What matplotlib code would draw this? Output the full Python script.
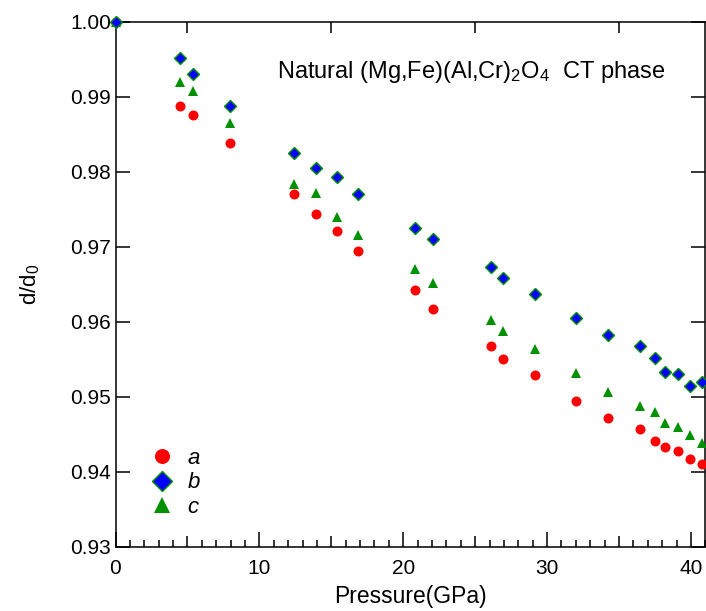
import matplotlib
matplotlib.use("Agg")
import matplotlib.pyplot as plt
from matplotlib.ticker import FixedLocator

plt.rcParams['font.family'] = ['Liberation Sans', 'DejaVu Sans']
plt.rcParams['mathtext.fontset'] = 'custom'
plt.rcParams['mathtext.rm'] = 'Liberation Sans'
plt.rcParams['mathtext.it'] = 'Liberation Sans:italic'

pressure = [0, 4.45, 5.40, 7.96, 12.44, 13.92, 15.38, 16.85, 20.83, 22.09, 26.07,
            26.91, 29.17, 32.04, 34.27, 36.45, 37.50, 38.20, 39.11, 39.92, 40.78]
a_vals = [1.0, 0.9888, 0.9876, 0.9838, 0.9770, 0.9744, 0.9721, 0.9694, 0.9642, 0.9617,
          0.9567, 0.9550, 0.9529, 0.9494, 0.9471, 0.9457, 0.9441, 0.9433, 0.9428, 0.9417, 0.9410]
b_vals = [1.0, 0.9952, 0.9930, 0.9887, 0.9825, 0.9805, 0.9793, 0.9770, 0.9725, 0.9710,
          0.9673, 0.9658, 0.9637, 0.9605, 0.9582, 0.9567, 0.9551, 0.9533, 0.9530, 0.9514, 0.9520]
c_vals = [1.0, 0.9920, 0.9908, 0.9865, 0.9783, 0.9771, 0.9739, 0.9715, 0.9670, 0.9652,
          0.9602, 0.9587, 0.9563, 0.9531, 0.9506, 0.9488, 0.9479, 0.9465, 0.9460, 0.9449, 0.9438]
y_ticks = [0.93, 0.94, 0.95, 0.96, 0.97, 0.98, 0.99, 1.00]
x_ticks = [0, 10, 20, 30, 40]
x_mid_ticks = [5, 15, 25, 35]

W, H = 706, 611
fig = plt.figure(figsize=(W / 100, H / 100), dpi=100)
ax = fig.add_axes([115.5 / W, 1 - 546.7 / H, (705.3 - 115.5) / W, (546.7 - 21.7) / H])

red = '#FF0000'
blue = '#0000FF'
green = '#009100'

ax.plot(pressure, a_vals, 'o', color=red, ms=7.2, mec=red, mew=0, label='$\\it{a}$', clip_on=False, zorder=3)
ax.plot(pressure, c_vals, '^', color=green, ms=7.8, mec=green, mew=0, label='$\\it{c}$', clip_on=False, zorder=4)
ax.plot(pressure, b_vals, 'D', color=blue, ms=6.6, mec=green, mew=1.0, label='$\\it{b}$', clip_on=False, zorder=5)

ax.set_xlim(0, 41)
ax.set_ylim(0.93, 1.00)
ax.xaxis.set_major_locator(FixedLocator(x_ticks))
ax.xaxis.set_minor_locator(FixedLocator([v for v in range(0, 42) if v % 5 != 0]))
ax.yaxis.set_major_locator(FixedLocator(y_ticks))
ax.set_yticklabels([f"{v:.2f}" for v in y_ticks])

ax.tick_params(axis='both', which='major', direction='in', labelsize=15, width=1.1,
               top=True, right=True, color='black')
ax.tick_params(axis='x', which='major', length=11, pad=9)
ax.tick_params(axis='y', which='major', length=10, pad=3)
ax.tick_params(axis='x', which='minor', direction='in', length=5, width=1.1, top=True, bottom=True)

ax2 = ax.twiny()
ax2.set_xlim(0, 41)
ax2.xaxis.set_major_locator(FixedLocator(x_mid_ticks))
ax2.tick_params(axis='x', which='major', direction='in', length=8, width=1.1,
                top=True, bottom=True, labeltop=False, labelbottom=False)
for s in ax2.spines.values():
    s.set_visible(False)

for s in ax.spines.values():
    s.set_linewidth(1.1)

ax.set_xlabel('Pressure(GPa)', fontsize=16.5, labelpad=5)
ax.set_ylabel('d/d$_0$', fontsize=16, labelpad=20.5)

ax.text(0.274, 0.905, 'Natural (Mg,Fe)(Al,Cr)$_2$O$_4$  CT phase', transform=ax.transAxes,
        fontsize=17, va='center', ha='left')

handles, labels = ax.get_legend_handles_labels()
order = [0, 2, 1]
leg = ax.legend([handles[i] for i in order], [labels[i] for i in order],
                loc='lower left', bbox_to_anchor=(0.022, 0.017), frameon=False,
                markerscale=1.5, fontsize=16, handletextpad=0.55, labelspacing=0.15,
                handlelength=1.2)

fig.savefig('out.png', dpi=100)
